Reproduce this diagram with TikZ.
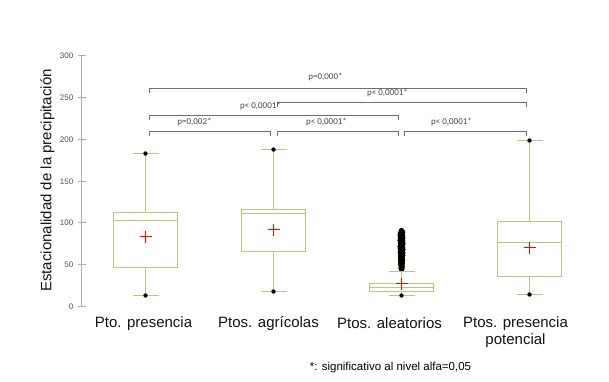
\documentclass[tikz,border=0pt]{standalone}
\usepackage{fontspec}
\setmainfont{Liberation Sans}
\newfontfamily\calib{Carlito}
\definecolor{boxgreen}{RGB}{175,205,125}
\definecolor{brkgray}{RGB}{110,110,110}
\definecolor{plabgray}{RGB}{70,70,70}
\definecolor{catblack}{RGB}{20,20,20}
\definecolor{tickgray}{RGB}{80,80,80}
\definecolor{axgray}{RGB}{175,175,175}
\definecolor{meanred}{RGB}{255,0,0}
\tikzset{
  declare function={yv(\v)=round(306-0.836*\v);},
  boxln/.style={color=boxgreen,line width=1.3pt},
  meanmk/.style={color=meanred,line width=1.3pt},
  brk/.style={color=brkgray,line width=1pt},
  plab/.style={font=\calib\fontsize{9}{10}\selectfont,text=plabgray,inner sep=0pt},
  catlab/.style={font=\fontsize{15}{17}\selectfont,text=catblack,inner sep=0pt},
  ticklab/.style={font=\fontsize{8}{9}\selectfont,text=tickgray,anchor=east,inner sep=0pt},
  axln/.style={color=axgray,line width=1pt},
  dotmk/.style={color=black},
  outl/.style={color=black,line width=0.5pt}
}
% boxplot macro: center, min, max, q1, med, q3, mean
\newcommand\bxplt[7]{%
  \begin{scope}[boxln]
  \draw (#1,{yv(#2)}) -- (#1,{yv(#4)});
  \draw (#1,{yv(#6)}) -- (#1,{yv(#3)});
  \draw ({#1-13},{yv(#2)}) -- ({#1+13},{yv(#2)});
  \draw ({#1-13},{yv(#3)}) -- ({#1+13},{yv(#3)});
  \draw ({#1-32},{yv(#4)}) rectangle ({#1+32},{yv(#6)});
  \draw ({#1-32},{yv(#5)}) -- ({#1+32},{yv(#5)});
  \end{scope}
  \begin{scope}[dotmk]
  \fill (#1,{yv(#2)}) circle (2.2);
  \end{scope}
  \begin{scope}[meanmk]
  \draw ({#1-6},{yv(#7)}) -- ({#1+6},{yv(#7)});
  \draw (#1,{yv(#7)-6}) -- (#1,{yv(#7)+6});
  \end{scope}
}
\begin{document}
\begin{tikzpicture}[x=1pt,y=-1pt]
\useasboundingbox[fill=white] (-0.5,-0.5) rectangle (608.5,380.5);
% axis
\begin{scope}[axln]
\draw (81,{yv(300)}) -- (81,306);
\foreach \v in {0,50,...,300}{
  \draw (77,{yv(\v)}) -- (85,{yv(\v)});
}
\end{scope}
\foreach \v in {0,50,...,300}{
  \node[ticklab] (t\v) at (73,{yv(\v)}) {\v};
}
\node[catlab,rotate=90] (ylab) at (47,180) {Estacionalidad de la precipitación};
% box 3 outliers
\begin{scope}[outl]
\foreach \v/\dx in {44/0,45/0.5,46/-0.5,47/0,48/0.8,49/-0.6,50/0.3,51/-0.9,52/1,53/0,54/-1,55/1.2,56/-0.4,57/0.9,58/-1.2,59/0.6,60/-0.8,61/1.3,62/-1.1,63/0.4,64/1.4,65/-1.3,66/0.8,67/-0.7,68/1.5,69/-1.4,70/0.2,71/1.2,72/-1.5,73/0.9,74/-0.9,75/1.5,76/-1.2,77/0.5,78/1.3,79/-1.5,80/0.7,81/-0.6,82/1.4,83/-1.3,84/0.3,85/1.1,86/-1.4,87/0.6,88/-0.8,89/1.2,90/-0.3,91/0}{
  \filldraw ({401+\dx},{306-0.836*\v}) circle (2.3);
}
\end{scope}
\bxplt{145}{13.5}{183}{47}{103}{113}{84}
\fill[dotmk] (145,{yv(183)}) circle (2.2);
\bxplt{273}{17.5}{188}{66}{111}{116}{92}
\fill[dotmk] (273,{yv(188)}) circle (2.2);
\bxplt{401}{13}{42}{18}{23}{28}{27}
\bxplt{529}{14}{198}{35.5}{76}{102}{71}
\fill[dotmk] (529,{yv(198)}) circle (2.2);
% brackets
\begin{scope}[brk]
\draw (149,92) -- (149,88) -- (526,88) -- (526,92);
\draw (277,106) -- (277,102) -- (526,102) -- (526,106);
\draw (149,119) -- (149,115) -- (398,115) -- (398,119);
\draw (149,135) -- (149,131) -- (270,131) -- (270,135);
\draw (277,135) -- (277,131) -- (398,131) -- (398,135);
\draw (404,135) -- (404,131) -- (526,131) -- (526,135);
\end{scope}
\node[plab] (p1) at (325,77) {p=0,000*};
\node[plab] (p2) at (387,93) {p< 0,0001*};
\node[plab] (p3) at (260,106) {p< 0,0001*};
\node[plab] (p4) at (194,121.5) {p=0,002*};
\node[plab] (p5) at (326,121.5) {p< 0,0001*};
\node[plab] (p6) at (451,121.5) {p< 0,0001*};
% category labels
\node[catlab] (c1) at (143,323) {Pto. presencia};
\node[catlab] (c2) at (268,323) {Ptos. agrícolas};
\node[catlab] (c3) at (389,323) {Ptos. aleatorios};
\node[catlab,align=center] (c4) at (515,331.5) {Ptos. presencia\\potencial};
\node[font=\fontsize{11.5}{13}\selectfont,inner sep=0pt] (foot) at (390,367) {*: significativo al nivel alfa=0,05};
\end{tikzpicture}
\end{document}
